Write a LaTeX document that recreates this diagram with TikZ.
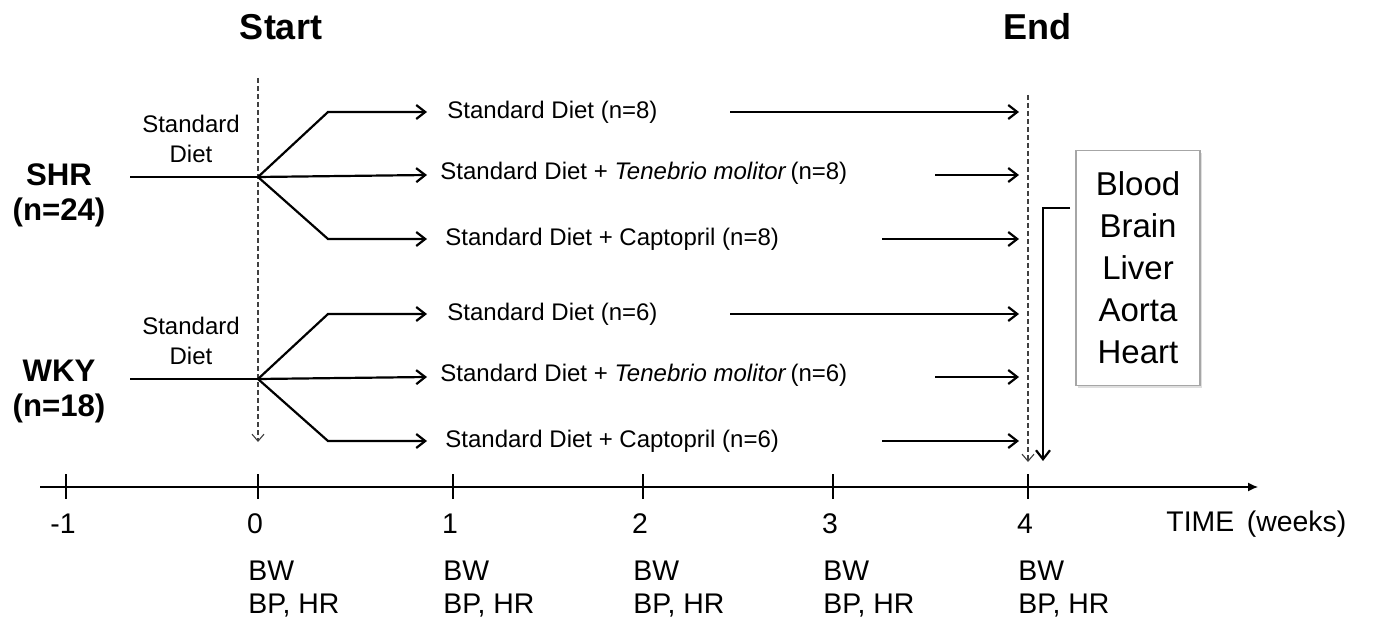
\documentclass[tikz,border=0pt]{standalone}
\usepackage{fontspec}
\setmainfont{Liberation Sans}
\usetikzlibrary{positioning,shadows,arrows.meta}

\begin{document}
\begin{tikzpicture}[x=0.5pt, y=-0.5pt,
    flow/.style={-{Straight Barb[length=4.5pt, width=7pt]}, line width=1.1pt},
    guide/.style={-{Straight Barb[length=3.5pt, width=6pt]}, dash pattern=on 2.5pt off 1.5pt,
                  line width=0.55pt, black!75},
    lbl/.style={font=\fontsize{12}{14}\selectfont, anchor=west, inner sep=0pt},
    grp/.style={font=\fontsize{15.6}{17.5}\selectfont\bfseries, align=center, inner sep=0pt},
    tick/.style={font=\fontsize{14.2}{16.5}\selectfont, inner sep=0pt},
  ]
  \useasboundingbox (0,0) rectangle (1374,625);

  \node[font=\fontsize{18}{20}\selectfont\bfseries] (start) at (281,27) {Start};
  \node[font=\fontsize{18}{20}\selectfont\bfseries] (end) at (1037,27) {End};

  % time axis
  \coordinate (ax0) at (40,487);
  \coordinate (ax1) at (1258,487);
  \draw[-{Latex[length=5pt, width=4.5pt]}, line width=0.65pt] (ax0) -- (ax1);
  \foreach \x/\w [count=\i] in {66/-1, 258/0, 453/1, 643/2, 833/3, 1028/4} {
    \draw[line width=0.65pt] (\x,474) -- (\x,499);
    \node[tick] (t\i) at (\x-3,524) {\w};
  }
  \foreach \x [count=\i] in {258, 453, 643, 833, 1028} {
    \node[tick, anchor=west, align=left] (m\i) at (\x-10,589) {BW\\BP, HR};
  }
  \node[tick, anchor=west] (time) at (1166,524) {TIME\, (weeks)};

  % start / end guides
  \coordinate (s0) at (258,78);
  \coordinate (s1) at (258,442);
  \coordinate (e0) at (1028,95);
  \coordinate (e1) at (1028,462);
  \draw[guide] (s0) -- (s1);
  \draw[guide] (e0) -- (e1);

  % groups
  \foreach \g/\y/\ly/\n/\k in {SHR/177/195/24/8, WKY/379/392/18/6} {
    \node[grp] (\g) at (59,\ly) {\g\\(n=\n)};
    \node[lbl, align=center, anchor=center] (\g sd) at (191,\y-38) {Standard\\[1pt]Diet};
    \coordinate (\g in) at (130,\y);
    \coordinate (\g br) at (258,\y);
    \coordinate (\g up) at (328,\y-65);
    \coordinate (\g dn) at (328,\y+62);
    \coordinate (\g xa) at (427,\y-65);
    \coordinate (\g xb) at (427,\y-2);
    \coordinate (\g xc) at (427,\y+62);
    \node[lbl] (\g a) at (447,\y-65) {Standard Diet (n=\k)};
    \node[lbl] (\g b) at (440,\y-4) {Standard Diet + \textit{Tenebrio molitor}\,(n=\k)};
    \node[lbl] (\g c) at (445,\y+62) {Standard Diet + Captopril (n=\k)};

    \draw[line width=1.1pt] (\g in) -- (\g br);
    \draw[flow] (\g br) -- (\g up) -- (\g xa);
    \draw[flow] (\g br) -- (\g xb);
    \draw[flow] (\g br) -- (\g dn) -- (\g xc);

    \coordinate (\g ra) at (730,\y-65);
    \coordinate (\g rb) at (935,\y-2);
    \coordinate (\g rc) at (882,\y+62);
    \coordinate (\g fa) at (1019,\y-65);
    \coordinate (\g fb) at (1019,\y-2);
    \coordinate (\g fc) at (1019,\y+62);
    \draw[flow] (\g ra) -- (\g fa);
    \draw[flow] (\g rb) -- (\g fb);
    \draw[flow] (\g rc) -- (\g fc);
  }

  % tissues
  \node[draw=black!35, fill=white, line width=0.6pt, minimum width=62pt, minimum height=117.5pt,
        align=center, font=\fontsize{16.5}{21}\selectfont,
        drop shadow={opacity=0.25, shadow xshift=1.2pt, shadow yshift=-1.2pt}]
    (tissue) at (1138,268) {Blood\\Brain\\Liver\\Aorta\\Heart};
  \coordinate (tap) at (1070,208);
  \coordinate (harvest) at (1043,461);
  \draw[flow] (tap) -| (harvest);
\end{tikzpicture}
\end{document}
